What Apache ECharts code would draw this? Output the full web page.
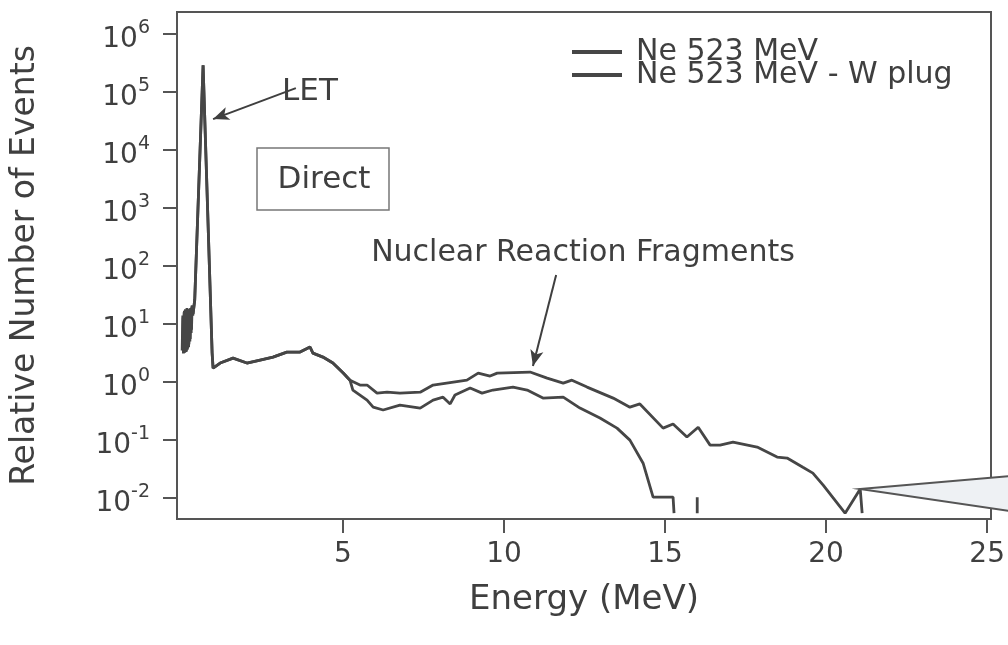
<!DOCTYPE html>
<html>
<head>
<meta charset="utf-8">
<title>Relative Number of Events</title>
<script src="https://cdn.jsdelivr.net/npm/echarts@6.0.0/dist/echarts.min.js"></script>
<style>
  html, body { margin: 0; padding: 0; background: #fff; }
  #chart { width: 1008px; height: 645px; }
</style>
</head>
<body>
<div id="chart"></div>
<script>
// values (energy in MeV, relative counts)
const seriesNames = ['Ne 523 MeV', 'Ne 523 MeV - W plug']
const energyNe = [0.01, 0.03, 0.05, 0.07, 0.09, 0.11, 0.13, 0.15, 0.17, 0.19, 0.21, 0.23, 0.25, 0.27, 0.29, 0.31, 0.34, 0.40, 0.66, 0.94, 0.97,
  1.19, 1.59, 2.02, 2.43, 2.83, 3.26, 3.67, 3.98, 4.07, 4.38, 4.69, 5.01, 5.22, 5.31, 5.75, 5.94, 6.25, 6.77,
  7.40, 7.80, 8.11, 8.33, 8.48, 8.95, 9.32, 9.66, 10.28, 10.72, 11.21, 11.84, 12.36, 12.98, 13.51, 13.91,
  14.32, 14.63, 15.25, 15.28, 15.6, 16.0, 16.0]
const countsNe = [3.5, 14, 3.1, 16, 3.2, 18, 3.3, 17, 3.6, 18, 4, 16, 5, 19, 7, 20, 14, 26, 2.9e5, 3.2, 1.74,
  2.13, 2.59, 2.13, 2.40, 2.70, 3.29, 3.29, 4.01, 3.16, 2.70, 2.13, 1.43, 1.08, 0.73, 0.49, 0.37, 0.33, 0.40,
  0.356, 0.49, 0.55, 0.42, 0.60, 0.79, 0.645, 0.73, 0.82, 0.73, 0.53, 0.55, 0.356, 0.24, 0.161, 0.10,
  0.040, 0.0104, 0.0104, 0.0055, null, 0.0055, 0.0104]
const energyW = [0.02, 0.04, 0.06, 0.08, 0.10, 0.12, 0.14, 0.16, 0.18, 0.20, 0.22, 0.24, 0.26, 0.28, 0.30, 0.32, 0.35, 0.40, 0.66, 0.94, 0.97,
  1.19, 1.59, 2.02, 2.43, 2.83, 3.26, 3.67, 3.98, 4.07, 4.38, 4.69, 5.01, 5.22, 5.53, 5.75, 6.06, 6.37, 6.77,
  7.40, 7.80, 8.85, 9.20, 9.57, 9.79, 10.81, 11.34, 11.84, 12.11, 12.58, 13.39, 13.91, 14.22, 14.94, 15.25,
  15.68, 16.03, 16.40, 16.71, 17.11, 17.86, 18.48, 18.79, 19.28, 19.59, 19.91, 20.59, 21.06, 21.12]
const countsW = [4, 13, 3.2, 17, 3.3, 16, 3.4, 19, 3.8, 15, 4.5, 18, 5.5, 17, 8, 21, 15, 26, 2.9e5, 3.2, 1.74,
  2.13, 2.59, 2.13, 2.40, 2.70, 3.29, 3.29, 4.01, 3.16, 2.70, 2.13, 1.43, 1.08, 0.89, 0.89, 0.645, 0.67, 0.645,
  0.67, 0.89, 1.08, 1.43, 1.27, 1.43, 1.49, 1.17, 0.96, 1.08, 0.82, 0.53, 0.37, 0.42, 0.161, 0.19,
  0.113, 0.167, 0.082, 0.082, 0.092, 0.076, 0.051, 0.049, 0.034, 0.027, 0.0167, 0.0055, 0.0143, 0.0055]
const xTicks = [5, 10, 15, 20, 25]
const yTicks = [1e-2, 1e-1, 1e0, 1e1, 1e2, 1e3, 1e4, 1e5, 1e6]

const font = 'DejaVu Sans'
const ink = '#3f3f3f'
const lineColor = '#464646'
const axisColor = '#555'

const toPairs = (xs, ys) => xs.map((x, i) => [x, ys[i]])

const chartInstance = echarts.init(document.getElementById('chart'), null, { renderer: 'canvas' })

const initOption = {
  animation: false,
  backgroundColor: '#fff',
  textStyle: { fontFamily: font, color: ink },
  grid: {
    left: 177,
    right: 17,
    top: 12,
    bottom: 126,
    show: true,
    borderColor: axisColor,
    borderWidth: 2
  },
  legend: {
    data: seriesNames,
    orient: 'vertical',
    left: 572,
    top: 37,
    padding: 0,
    icon: 'rect',
    itemWidth: 50,
    itemHeight: 4,
    itemGap: -7,
    itemStyle: { color: lineColor, borderWidth: 0 },
    textStyle: { fontSize: 30, color: ink, fontFamily: font, padding: [0, 0, 0, 9] }
  },
  xAxis: {
    type: 'value',
    min: -0.15,
    max: 25.12,
    name: 'Energy (MeV)',
    nameLocation: 'middle',
    nameGap: 64,
    nameTextStyle: { fontSize: 34, color: ink, fontFamily: font },
    axisLine: { onZero: false, lineStyle: { color: axisColor, width: 2 } },
    axisTick: { customValues: xTicks, length: 14, lineStyle: { color: axisColor, width: 2 } },
    axisLabel: { customValues: xTicks, margin: 22, fontSize: 28, color: ink, fontFamily: font },
    splitLine: { show: false }
  },
  yAxis: {
    type: 'log',
    min: 0.004365,
    max: 2.399e6,
    name: 'Relative Number of Events',
    nameLocation: 'middle',
    nameGap: 135,
    nameTextStyle: { fontSize: 33, color: ink, fontFamily: font },
    axisLine: { onZero: false, lineStyle: { color: axisColor, width: 2 } },
    axisTick: { customValues: yTicks, length: 14, lineStyle: { color: axisColor, width: 2 } },
    axisLabel: {
      customValues: yTicks,
      margin: 27,
      formatter: (v) => '{b|10}{s|' + Math.round(Math.log10(v)) + '}',
      rich: {
        b: { fontSize: 28, color: ink, fontFamily: font, padding: [12, 0, 0, 0] },
        s: { fontSize: 19, color: ink, fontFamily: font, padding: [0, 0, 12, 0] }
      }
    },
    splitLine: { show: false }
  },
  series: [
    {
      name: seriesNames[0],
      type: 'line',
      data: toPairs(energyNe, countsNe),
      symbol: 'none',
      connectNulls: false,
      clip: true,
      lineStyle: { color: lineColor, width: 2.8 },
      itemStyle: { color: lineColor },
      // annotation arrows
      markLine: {
        silent: true,
        symbol: ['none', 'arrow'],
        symbolSize: [10, 16],
        label: { show: false },
        lineStyle: { color: '#3f3f3f', width: 2, type: 'solid' },
        data: [
          [{ coord: [3.54, 1.17e5] }, { coord: [0.97, 3.42e4] }],
          [{ coord: [11.62, 70] }, { coord: [10.9, 1.89] }]
        ]
      }
    },
    {
      name: seriesNames[1],
      type: 'line',
      data: toPairs(energyW, countsW),
      symbol: 'none',
      clip: true,
      lineStyle: { color: lineColor, width: 2.8 },
      itemStyle: { color: lineColor }
    }
  ]
}
chartInstance.setOption(initOption)

// text annotations and the zoom callout wedge
const wedgeTip = chartInstance.convertToPixel({ gridIndex: 0 }, [21.06, 0.0143])
chartInstance.setOption({
  graphic: [
    {
      type: 'text', x: 310, y: 92,
      style: { text: 'LET', font: '31px "DejaVu Sans"', fill: ink, align: 'center', verticalAlign: 'middle' }
    },
    {
      type: 'rect', shape: { x: 257, y: 148, width: 132, height: 62 },
      style: { fill: 'none', stroke: '#777', lineWidth: 1.5 }
    },
    {
      type: 'text', x: 324, y: 180,
      style: { text: 'Direct', font: '31px "DejaVu Sans"', fill: ink, align: 'center', verticalAlign: 'middle' }
    },
    {
      type: 'text', x: 583, y: 253,
      style: { text: 'Nuclear Reaction Fragments', font: '30px "DejaVu Sans"', fill: ink, align: 'center', verticalAlign: 'middle' }
    },
    {
      type: 'polygon', z: 100,
      shape: { points: [wedgeTip, [1010, 476], [1010, 511]] },
      style: { fill: '#eef1f4', stroke: axisColor, lineWidth: 2 }
    }
  ]
})
</script>
</body>
</html>
